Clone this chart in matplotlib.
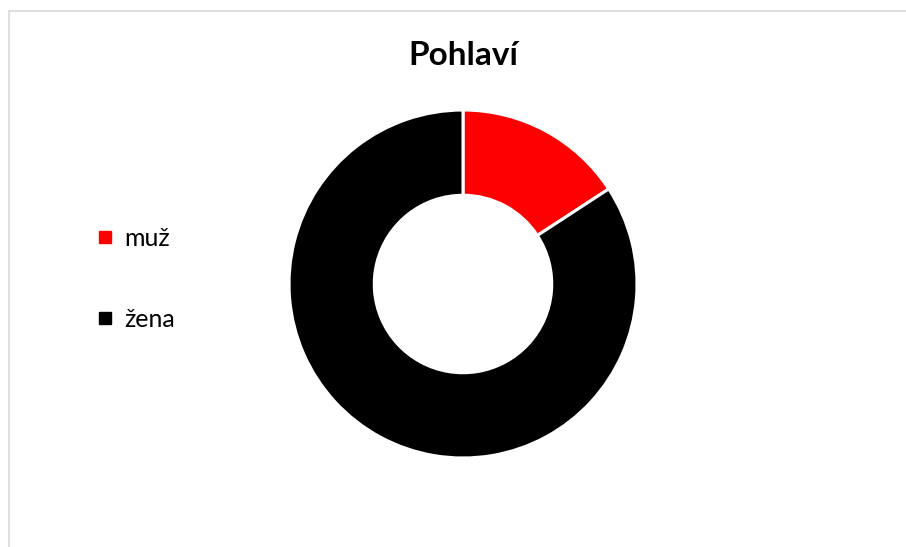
import matplotlib.pyplot as plt
from matplotlib.lines import Line2D
from matplotlib.patches import Rectangle

plt.rcParams['font.family'] = ['Lato', 'DejaVu Sans']

labels = ['muž', 'žena']
values = [15.8, 84.2]
colors = ['#ff0000', '#000000']

fig = plt.figure(figsize=(9.06, 5.47), dpi=100)

# light grey chart-area frame (runs off the right/bottom edge)
fig.patches.append(Rectangle((8.5 / 906, -0.1), 1.2, 1 - 10.5 / 547 + 0.1,
                             transform=fig.transFigure, fill=False,
                             edgecolor='#d9d9d9', linewidth=1.2))

ax = fig.add_axes([0.319, 0.1627, 0.3841, 0.6362])
ax.pie(values, colors=colors, startangle=90, counterclock=False, radius=1,
       wedgeprops=dict(width=0.49, edgecolor='white', linewidth=2.2))
ax.set_xlim(-1, 1)
ax.set_ylim(-1, 1)
ax.set_aspect('equal')
ax.axis('off')

fig.text(0.511, 1 - 55 / 547, 'Pohlaví', ha='center', va='center',
         fontsize=24, fontweight='bold')

handles = [Line2D([], [], linestyle='none', marker='s', markersize=8,
                  markerfacecolor=c, markeredgecolor=c) for c in colors]
fig.legend(handles, labels, loc='center left', bbox_to_anchor=(0.108, 0.49),
           frameon=False, fontsize=18, labelspacing=2.3, handlelength=0.6,
           handletextpad=0.45, borderpad=0, borderaxespad=0)

fig.savefig('out.png', dpi=100)
